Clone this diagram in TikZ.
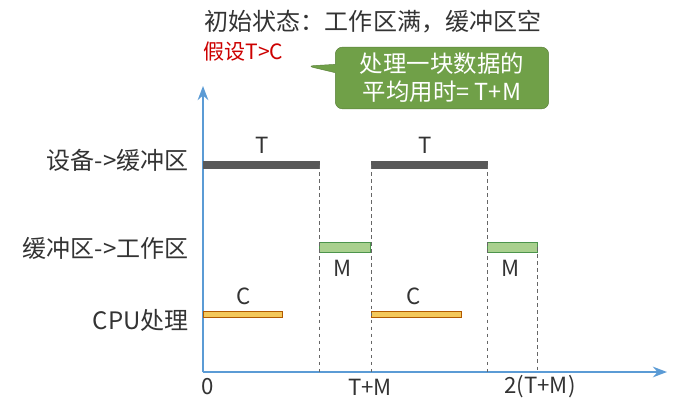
\documentclass[tikz,border=0pt]{standalone}
\usepackage{fontspec}
\setmainfont{Noto Sans CJK SC}
\usetikzlibrary{positioning, shapes.callouts, arrows.meta}
\definecolor{axisblue}{RGB}{91,155,213}
\definecolor{calloutgreen}{RGB}{112,160,72}
\definecolor{barM}{RGB}{169,208,142}
\definecolor{barC}{RGB}{244,200,90}
\begin{document}
\begin{tikzpicture}[
  x=0.03cm, y=-0.03cm,
  >=Stealth,
  every node/.style={font=\fontsize{19}{21}\selectfont, text=black!80, inner sep=1pt},
  barT/.style={fill=black!65, draw=black!65},
  barM/.style={fill=barM, draw=green!40!black!70},
  barC/.style={fill=barC, draw=orange!70!black},
  guide/.style={dashed, black!60, thin}
]
\useasboundingbox (0,0) rectangle (684,405);

% Axes
\coordinate (origin) at (203,372);
\coordinate (ytop) at (203,86);
\coordinate (xend) at (667,372);
\draw[->, axisblue, line width=2pt] (origin) -- (ytop);
\draw[->, axisblue, line width=2pt] (origin) -- (xend);

% Titles
\node[font=\fontsize{20.5}{22}\selectfont] (title) at (373,22) {初始状态：工作区满，缓冲区空};
\node[font=\fontsize{18}{20}\selectfont, text=red!80!black, anchor=west] (assume) at (202,52) {假设T>C};
\node[rectangle callout, rounded corners=6pt, fill=calloutgreen, draw=calloutgreen!80!black,
  text=white, align=center, minimum width=6.4cm, minimum height=1.85cm,
  font=\fontsize{20}{24}\selectfont,
  callout absolute pointer={(307,66)}] (avg) at (442,78) {处理一块数据的\\平均用时= T+M};

% Row labels
\node[anchor=east, font=\fontsize{20.5}{22}\selectfont] (dev) at (190,160) {设备->缓冲区};
\node[anchor=east, font=\fontsize{20.5}{22}\selectfont] (buf) at (190,248) {缓冲区->工作区};
\node[anchor=east, font=\fontsize{20.5}{22}\selectfont] (cpu) at (190,320) {CPU处理};

% Bars
\draw[barT] (203,161) rectangle (319,168);
\draw[barT] (371,161) rectangle (487,168);
\draw[barM] (319,242) rectangle (370,252);
\draw[barM] (487,242) rectangle (537,252);
\draw[barC] (203,311) rectangle (282,317);
\draw[barC] (371,311) rectangle (461,317);

\node (t1) at (262,145) {T};
\node (t2) at (425,145) {T};
\node (m1) at (343,268) {M};
\node (m2) at (511,268) {M};
\node (c1) at (244,296) {C};
\node (c2) at (414,296) {C};

% Guides
\foreach \gx/\gy in {319/165, 371/165, 487/165, 537/247}
  \draw[guide] (\gx,\gy) -- (\gx,372);

% Tick labels
\node (x0) at (208,387) {0};
\node (x1) at (370,387) {T+M};
\node (x2) at (540,387) {2(T+M)};
\end{tikzpicture}
\end{document}
